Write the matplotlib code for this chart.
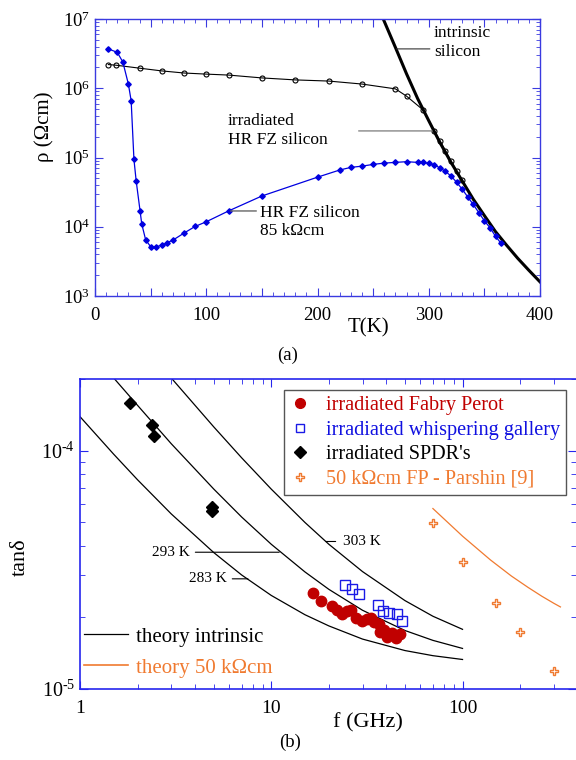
import math
import matplotlib
matplotlib.use("Agg")
import matplotlib.pyplot as plt
from matplotlib.lines import Line2D
from matplotlib.ticker import LogLocator, MultipleLocator, FuncFormatter, NullFormatter, FixedLocator

plt.rcParams['font.family'] = ['Liberation Serif', 'DejaVu Serif']
plt.rcParams['mathtext.fontset'] = 'custom'
plt.rcParams['mathtext.rm'] = 'Liberation Serif'
plt.rcParams['mathtext.it'] = 'Liberation Serif:italic'
plt.rcParams['mathtext.default'] = 'regular'

# (a) resistivity vs temperature
T_irr = [12, 19, 40, 60, 80, 100, 120, 150, 180, 210, 240, 270, 280, 295, 305, 310, 315, 320, 325, 330]
rho_irr = [2.2e6, 2.15e6, 1.95e6, 1.78e6, 1.66e6, 1.6e6, 1.55e6, 1.41e6, 1.32e6, 1.27e6, 1.15e6,
           9.8e5, 7.7e5, 4.85e5, 2.42e5, 1.75e5, 1.25e5, 8.9e4, 6.4e4, 4.7e4]

T_hr = [12, 20, 25, 30, 32.5, 35, 37, 40.5, 42, 45.5, 50, 55, 60, 65, 70, 80, 90, 100, 120, 150,
        200, 220, 230, 240, 250, 260, 270, 280, 290, 295, 300, 305, 310, 315, 320, 325, 330,
        335, 340, 345, 350, 355, 360, 365]
rho_hr = [3.7e6, 3.3e6, 2.4e6, 1.15e6, 6.6e5, 9.4e4, 4.6e4, 1.7e4, 1.1e4, 6.5e3, 5.15e3, 5.15e3,
          5.4e3, 5.9e3, 6.4e3, 8.1e3, 1.01e4, 1.18e4, 1.69e4, 2.78e4, 5.2e4, 6.6e4, 7.2e4, 7.5e4,
          7.95e4, 8.3e4, 8.5e4, 8.7e4, 8.5e4, 8.5e4, 8.2e4, 7.8e4, 7.1e4, 6.3e4, 5.4e4, 4.4e4,
          3.5e4, 2.7e4, 2.1e4, 1.6e4, 1.22e4, 9.7e3, 7.3e3, 5.75e3]

T_int = [258, 270, 280, 290, 300, 310, 320, 330, 340, 350, 360, 370, 380, 390, 400]
rho_int = [1.1e7, 3.9e6, 1.62e6, 7.1e5, 3.4e5, 1.65e5, 8.5e4, 4.6e4, 2.5e4, 1.45e4, 8.5e3,
           5.4e3, 3.5e3, 2.35e3, 1.6e3]

# (b) loss tangent vs frequency
f_th = [1, 1.5, 2, 3, 5, 7, 10, 15, 20, 30, 50, 70, 100]
tan_283 = [1.39e-4, 9.67e-5, 7.55e-5, 5.43e-5, 3.74e-5, 3.01e-5, 2.47e-5, 2.05e-5, 1.84e-5,
           1.62e-5, 1.45e-5, 1.38e-5, 1.33e-5]
tan_293 = [2.98e-4, 2.02e-4, 1.55e-4, 1.07e-4, 6.91e-5, 5.27e-5, 4.05e-5, 3.10e-5, 2.62e-5,
           2.14e-5, 1.76e-5, 1.60e-5, 1.48e-5]
tan_303 = [5.81e-4, 3.91e-4, 2.97e-4, 2.02e-4, 1.26e-4, 9.34e-5, 6.9e-5, 5.0e-5, 4.05e-5,
           3.11e-5, 2.35e-5, 2.02e-5, 1.78e-5]

f_50 = [70, 100, 140, 180, 220, 260, 300, 325]
tan_50 = [5.72e-5, 4.38e-5, 3.48e-5, 2.98e-5, 2.67e-5, 2.45e-5, 2.29e-5, 2.21e-5]

f_fp = [16.6, 18.1, 20.7, 22.1, 23.5, 24.8, 26.1, 27.9, 29.7, 31.5, 33.1, 34.5, 36.7, 37.0,
        38.8, 40.4, 42.9, 44.9, 47.1]
tan_fp = [2.54e-5, 2.35e-5, 2.23e-5, 2.14e-5, 2.07e-5, 2.13e-5, 2.14e-5, 1.99e-5, 1.93e-5,
          1.96e-5, 1.99e-5, 1.91e-5, 1.87e-5, 1.74e-5, 1.77e-5, 1.66e-5, 1.71e-5, 1.64e-5, 1.70e-5]

f_wg = [24.3, 26.3, 28.8, 36.0, 38.4, 41.1, 45.2, 48.1]
tan_wg = [2.74e-5, 2.64e-5, 2.50e-5, 2.25e-5, 2.13e-5, 2.09e-5, 2.06e-5, 1.93e-5]

f_spdr = [1.82, 2.39, 2.44, 4.9, 4.9]
tan_spdr = [1.59e-4, 1.28e-4, 1.15e-4, 5.8e-5, 5.6e-5]

f_par = [70, 100, 150, 200, 300]
tan_par = [4.95e-5, 3.4e-5, 2.3e-5, 1.74e-5, 1.19e-5]

RED = '#c00000'
BLUE_W = '#1a1ae6'
ORANGE = '#f07a30'
AX_BLUE = '#3a3ae0'


def pow10(v, p):
    e = int(round(math.log10(v)))
    if e < 0:
        return r'$10^{\text{-}%d}$' % (-e)
    return r'$10^{%d}$' % e


fig = plt.figure(figsize=(5.76, 7.6), dpi=100)

# ---------- top panel ----------
ax1 = fig.add_axes([95/576, 1-296/760, 445/576, 277/760])
ax1.set_yscale('log')
ax1.set_xlim(0, 400)
ax1.set_ylim(1e3, 1e7)

ax1.plot(T_int, rho_int, color='black', lw=2.2, zorder=2)
ax1.plot(T_irr, rho_irr, color='black', lw=0.8, marker='o', ms=3.6, mfc='none', mew=0.8, zorder=3)
ax1.plot(T_hr, rho_hr, color='#0000e0', lw=0.9, marker='D', ms=2.8, mec='#0000e0', zorder=3)

ax1.xaxis.set_major_locator(MultipleLocator(50))
ax1.xaxis.set_minor_locator(MultipleLocator(10))
ax1.xaxis.set_major_formatter(FuncFormatter(lambda v, p: '%d' % v if v % 100 == 0 else ''))
ax1.yaxis.set_major_locator(LogLocator(base=10))
ax1.yaxis.set_minor_locator(LogLocator(base=10, subs=range(2, 10)))
ax1.yaxis.set_minor_formatter(NullFormatter())
ax1.yaxis.set_major_formatter(FuncFormatter(pow10))
for s in ax1.spines.values():
    s.set_color(AX_BLUE)
    s.set_linewidth(1.0)
ax1.tick_params(which='both', direction='in', top=True, right=True, color=AX_BLUE, labelsize=13.5)
ax1.tick_params(which='major', length=6)
ax1.tick_params(which='minor', length=3)
ax1.tick_params(axis='x', pad=8)

ax1.text(304.7, 4.6e6, 'intrinsic\nsilicon', fontsize=12.5, ha='left', va='center', linespacing=1.2)
ax1.annotate('', xy=(271, 3.7e6), xytext=(301, 3.7e6),
             arrowprops=dict(arrowstyle='-', color='#333333', lw=0.8, shrinkA=0, shrinkB=0))
ax1.text(119.6, 2.45e5, 'irradiated\nHR FZ silicon', fontsize=12.5, ha='left', va='center', linespacing=1.2)
ax1.annotate('', xy=(303, 2.42e5), xytext=(237, 2.42e5),
             arrowprops=dict(arrowstyle='-', color='#888888', lw=1.0, shrinkA=0, shrinkB=0))
ax1.text(148.5, 1.17e4, 'HR FZ silicon\n85 k\u03a9cm', fontsize=12.5, ha='left', va='center', linespacing=1.2)
ax1.annotate('', xy=(122, 1.69e4), xytext=(145, 1.69e4),
             arrowprops=dict(arrowstyle='-', color='#666666', lw=1.0, shrinkA=0, shrinkB=0))

fig.text(44/576, 1-127/760, '\u03c1 (\u03a9cm)', rotation=90, fontsize=15, ha='center', va='center')
fig.text(368/576, 1-328/760, 'T(K)', fontsize=15, ha='center', va='center')
fig.text(288/576, 1-355/760, '(a)', fontsize=13.5, ha='center', va='center')

# ---------- bottom panel ----------
ax2 = fig.add_axes([80/576, 1-689/760, 496/576, 310/760])
ax2.set_xscale('log')
ax2.set_yscale('log')
ax2.set_xlim(1, 392)
ax2.set_ylim(1e-5, 2e-4)

for tv in (tan_283, tan_293, tan_303):
    ax2.plot(f_th, tv, color='black', lw=0.9, zorder=2)
ax2.plot(f_50, tan_50, color=ORANGE, lw=0.9, zorder=2)
ax2.plot(f_fp, tan_fp, 'o', color=RED, ms=7.5, mec=RED, zorder=4)
ax2.plot(f_wg, tan_wg, 's', ms=6.5, mfc='none', mec=BLUE_W, mew=1.0, zorder=5)
ax2.plot(f_spdr, tan_spdr, 'D', color='black', ms=6.5, zorder=4)
ax2.plot(f_par, tan_par, 'P', ms=6, mfc='white', mec=ORANGE, mew=1.0, zorder=4)

ax2.spines['right'].set_visible(False)
for k in ('left', 'top', 'bottom'):
    ax2.spines[k].set_color('#2626ee')
    ax2.spines[k].set_linewidth(1.2)
ax2.xaxis.set_major_locator(FixedLocator([1, 10, 100]))
ax2.xaxis.set_minor_locator(LogLocator(base=10, subs=range(2, 10)))
ax2.xaxis.set_major_formatter(FuncFormatter(lambda v, p: '%d' % v))
ax2.xaxis.set_minor_formatter(NullFormatter())
ax2.yaxis.set_major_locator(FixedLocator([1e-5, 1e-4]))
ax2.yaxis.set_minor_locator(LogLocator(base=10, subs=range(2, 10)))
ax2.yaxis.set_major_formatter(FuncFormatter(pow10))
ax2.yaxis.set_minor_formatter(NullFormatter())
ax2.tick_params(which='both', direction='in', top=True, right=True, color='#2626ee', labelsize=14.5)
ax2.tick_params(which='major', length=6)
ax2.tick_params(which='minor', length=3.5)
ax2.tick_params(axis='x', pad=8, labelsize=14)

ax2.annotate('293 K', xy=(11.0, 3.75e-5), xytext=(3.75, 3.75e-5), fontsize=11, ha='right', va='center',
             arrowprops=dict(arrowstyle='-', color='black', lw=0.8, shrinkA=2, shrinkB=0))
ax2.annotate('283 K', xy=(7.55, 2.9e-5), xytext=(5.85, 2.9e-5), fontsize=11, ha='right', va='center',
             arrowprops=dict(arrowstyle='-', color='black', lw=0.8, shrinkA=2, shrinkB=0))
ax2.annotate('303 K', xy=(19.3, 4.16e-5), xytext=(23.6, 4.16e-5), fontsize=11, ha='left', va='center',
             arrowprops=dict(arrowstyle='-', color='black', lw=0.8, shrinkA=3, shrinkB=0))

h1 = [Line2D([], [], ls='none', marker='o', color=RED, ms=7),
      Line2D([], [], ls='none', marker='s', mfc='none', mec=BLUE_W, ms=6),
      Line2D([], [], ls='none', marker='D', color='black', ms=6),
      Line2D([], [], ls='none', marker='P', mfc='white', mec=ORANGE, ms=5.5)]
lab1 = ['irradiated Fabry Perot', 'irradiated whispering gallery', "irradiated SPDR's",
        '50 k\u03a9cm FP - Parshin [9]']
leg1 = ax2.legend(h1, lab1, loc='upper left', bbox_to_anchor=(284/576, 1-390/760),
                  bbox_transform=fig.transFigure, fontsize=14.6, frameon=True, fancybox=False,
                  edgecolor='#555555', framealpha=1, handlelength=1.0, handletextpad=0.75,
                  labelspacing=0.26, borderpad=0.3, borderaxespad=0,
                  labelcolor=[RED, '#1010e0', 'black', ORANGE])
leg1.get_frame().set_linewidth(1.0)
ax2.add_artist(leg1)

h2 = [Line2D([], [], color='black', lw=0.9), Line2D([], [], color=ORANGE, lw=1.2)]
ax2.legend(h2, ['theory intrinsic', 'theory 50 k\u03a9cm'], loc='upper left',
           bbox_to_anchor=(84/576, 1-627/760), bbox_transform=fig.transFigure,
           fontsize=15, frameon=False, handlelength=2.1, handletextpad=0.4,
           labelspacing=0.55, borderpad=0, borderaxespad=0, labelcolor=['black', ORANGE])

fig.text(20/576, 1-557/760, 'tan\u03b4', rotation=90, fontsize=16, ha='center', va='center')
fig.text(368/576, 1-723/760, 'f (GHz)', fontsize=16, ha='center', va='center')
fig.text(290/576, 1-742/760, '(b)', fontsize=13.5, ha='center', va='center')

fig.savefig('out.png', dpi=100)
